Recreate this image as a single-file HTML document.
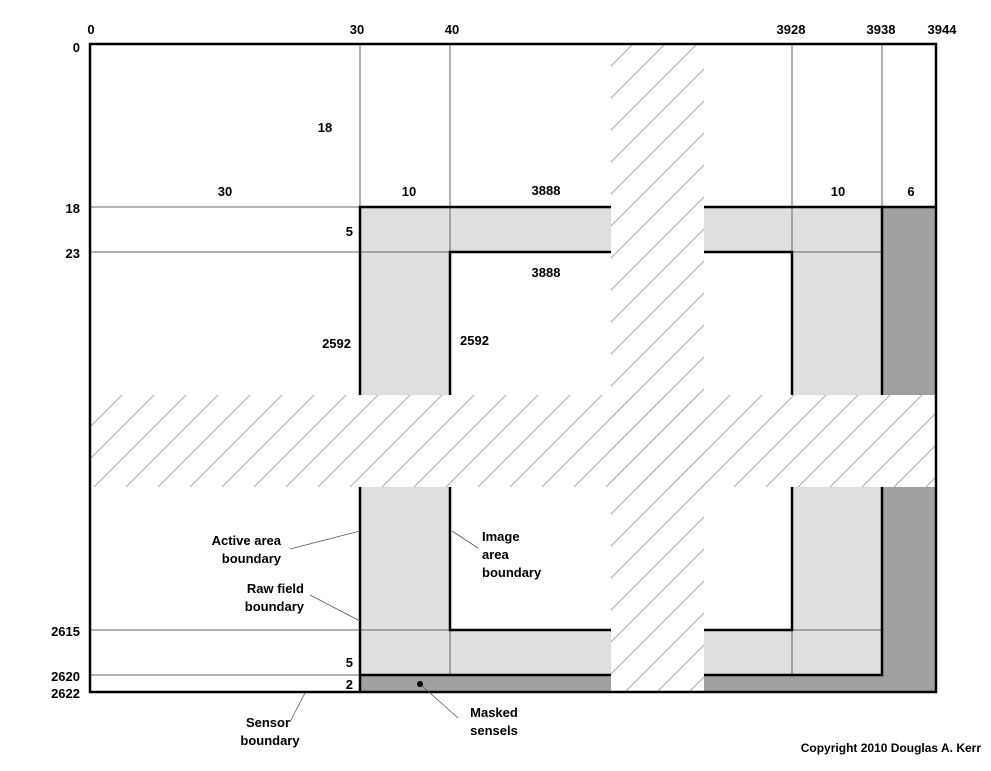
<!DOCTYPE html>
<html><head><meta charset="utf-8"><style>
html,body{margin:0;padding:0;background:#fff;}
text{font-family:"Liberation Sans",sans-serif;font-size:13px;font-weight:bold;fill:#000;}
</style></head><body>
<svg width="991" height="766" viewBox="0 0 991 766" xmlns="http://www.w3.org/2000/svg">
<defs>
<pattern id="h" patternUnits="userSpaceOnUse" width="32" height="32" patternTransform="translate(5,0)">
<line x1="0" y1="32" x2="32" y2="0" stroke="#aaa" stroke-width="1"/>
<line x1="-4" y1="4" x2="4" y2="-4" stroke="#aaa" stroke-width="1"/>
<line x1="28" y1="36" x2="36" y2="28" stroke="#aaa" stroke-width="1"/>
</pattern>
</defs>
<rect x="0" y="0" width="991" height="766" fill="#fff"/>
<path d="M360 207H882V675H360Z M450 252V630H792V252Z" fill="#dfdfdf" fill-rule="evenodd"/>
<rect x="882" y="207" width="54" height="485" fill="#a0a0a0"/>
<rect x="360" y="675" width="522" height="17" fill="#a0a0a0"/>
<g stroke="#666" stroke-width="1">
<line x1="360" y1="44" x2="360" y2="207"/>
<line x1="450" y1="44" x2="450" y2="252"/>
<line x1="792" y1="44" x2="792" y2="252"/>
<line x1="882" y1="44" x2="882" y2="207"/>
<line x1="450" y1="630" x2="450" y2="675"/>
<line x1="792" y1="630" x2="792" y2="675"/>
<line x1="90" y1="207" x2="360" y2="207"/>
<line x1="90" y1="252" x2="882" y2="252"/>
<line x1="90" y1="630" x2="882" y2="630"/>
<line x1="90" y1="675" x2="360" y2="675"/>
</g>
<g stroke="#000" stroke-width="2.5" fill="none">
<rect x="360" y="207" width="522" height="468"/>
<line x1="360" y1="675" x2="360" y2="692"/>
<line x1="882" y1="207" x2="936" y2="207"/>
<rect x="450" y="252" width="342" height="378"/>
</g>
<rect x="91" y="395" width="844" height="92" fill="#fff"/>
<rect x="611" y="45" width="93" height="646" fill="#fff"/>
<rect x="91" y="395" width="844" height="92" fill="url(#h)"/>
<rect x="611" y="45" width="93" height="646" fill="url(#h)"/>
<rect x="90" y="44" width="846" height="648" fill="none" stroke="#000" stroke-width="2.5"/>
<g stroke="#555" stroke-width="0.8">
<line x1="290" y1="549" x2="360" y2="531"/>
<line x1="310" y1="595" x2="360" y2="621"/>
<line x1="452" y1="531" x2="478" y2="548"/>
<line x1="290" y1="722" x2="305" y2="693"/>
<line x1="420" y1="684" x2="458" y2="718"/>
</g>
<circle cx="420" cy="684" r="3" fill="#000"/>
<text x="91" y="34" text-anchor="middle">0</text>
<text x="357" y="34" text-anchor="middle">30</text>
<text x="452" y="34" text-anchor="middle">40</text>
<text x="791" y="34" text-anchor="middle">3928</text>
<text x="881" y="34" text-anchor="middle">3938</text>
<text x="942" y="34" text-anchor="middle">3944</text>
<text x="80" y="52" text-anchor="end">0</text>
<text x="80" y="213" text-anchor="end">18</text>
<text x="80" y="258" text-anchor="end">23</text>
<text x="80" y="636" text-anchor="end">2615</text>
<text x="80" y="681" text-anchor="end">2620</text>
<text x="80" y="698" text-anchor="end">2622</text>
<text x="325" y="132" text-anchor="middle">18</text>
<text x="225" y="196" text-anchor="middle">30</text>
<text x="409" y="196" text-anchor="middle">10</text>
<text x="546" y="195" text-anchor="middle">3888</text>
<text x="838" y="196" text-anchor="middle">10</text>
<text x="911" y="196" text-anchor="middle">6</text>
<text x="353" y="236" text-anchor="end">5</text>
<text x="546" y="277" text-anchor="middle">3888</text>
<text x="351" y="348" text-anchor="end">2592</text>
<text x="460" y="345">2592</text>
<text x="353" y="667" text-anchor="end">5</text>
<text x="353" y="689" text-anchor="end">2</text>
<text x="281" y="545" text-anchor="end">Active area</text>
<text x="281" y="563" text-anchor="end">boundary</text>
<text x="304" y="593" text-anchor="end">Raw field</text>
<text x="304" y="611" text-anchor="end">boundary</text>
<text x="482" y="541">Image</text>
<text x="482" y="559">area</text>
<text x="482" y="577">boundary</text>
<text x="268" y="727" text-anchor="middle">Sensor</text>
<text x="270" y="745" text-anchor="middle">boundary</text>
<text x="494" y="717" text-anchor="middle">Masked</text>
<text x="494" y="735" text-anchor="middle">sensels</text>
<text x="981" y="752" text-anchor="end" style="font-size:12px">Copyright 2010 Douglas A. Kerr</text>
</svg>
</body></html>
